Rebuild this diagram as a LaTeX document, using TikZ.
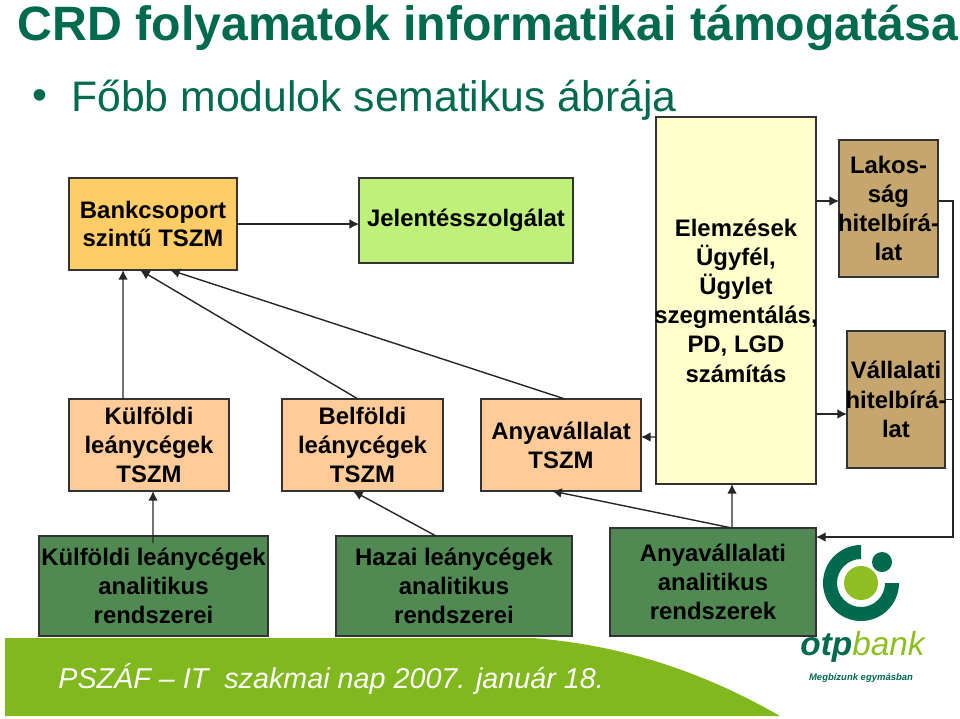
\documentclass[tikz,border=0pt]{standalone}
\usepackage{fontspec}
\setmainfont{Liberation Sans}
\usetikzlibrary{calc,arrows.meta}
\definecolor{titlegreen}{HTML}{006A4E}
\definecolor{bandgreen}{HTML}{80B81E}
\definecolor{logolight}{HTML}{8DBE22}
\definecolor{rszgreen}{HTML}{508A52}
\definecolor{hiteltan}{HTML}{C4A66E}
\definecolor{bankorange}{HTML}{FFCC66}
\definecolor{tszmorange}{HTML}{FFCC99}
\definecolor{jelentgreen}{HTML}{BFF07A}
\definecolor{elemzyellow}{HTML}{FFFFCC}
\newcommand{\wideline}[1]{\makebox[0pt]{#1}}
\tikzset{
  box/.style={draw=black!80,line width=0.8pt,inner sep=0pt,outer sep=0pt,align=center,
    font=\fontsize{13.6}{16.6}\selectfont\bfseries},
  arr/.style={draw=black!85,line width=0.8pt,-{Latex[length=5.5pt,width=5.5pt]}},
  conn/.style={draw=black!85,line width=0.8pt},
}
\begin{document}
\begin{tikzpicture}[x=0.02cm,y=-0.02cm]
\useasboundingbox (0,0) rectangle (960,718);

\node[text=titlegreen,font=\fontsize{27.45}{30}\selectfont\bfseries] (title) at (488,28) {CRD folyamatok informatikai támogatása};
\node[text=titlegreen,font=\fontsize{24.3}{26}\selectfont] (bullet) at (40,100) {•};
\node[text=titlegreen,font=\fontsize{24.3}{26}\selectfont,anchor=west,inner sep=0pt] (subtitle) at (71,100) {Főbb modulok sematikus ábrája};

\node[box,fill=bankorange,minimum width=3.36cm,minimum height=1.84cm] (bank) at (153,224) {\raisebox{-1pt}{Bankcsoport}\\szintű TSZM};
\node[box,fill=jelentgreen,minimum width=4.28cm,minimum height=1.70cm] (jelent) at (466,220.5) {\raisebox{-3.4pt}{Jelentésszolgálat}};
\node[box,fill=tszmorange,minimum width=3.2cm,minimum height=1.84cm] (kulf) at (149,445) {Külföldi\\leánycégek\\TSZM};
\node[box,fill=tszmorange,minimum width=3.22cm,minimum height=1.84cm] (belf) at (362.5,445) {Belföldi\\leánycégek\\TSZM};
\node[box,fill=tszmorange,minimum width=3.2cm,minimum height=1.84cm] (anya) at (561,445) {Anyavállalat\\TSZM};
\node[box,fill=elemzyellow,minimum width=3.2cm,minimum height=7.34cm] (elemz) at (736,300.5) {Elemzések\\Ügyfél,\\Ügylet\\\wideline{szegmentálás,}\\PD, LGD\\számítás};
\node[box,fill=hiteltan,minimum width=1.98cm,minimum height=2.74cm] (lakos) at (888.5,208.5) {Lakos-\\ság\\\wideline{hitelbírá-}\\lat};
\node[box,fill=hiteltan,minimum width=1.96cm,minimum height=2.74cm] (vall) at (896,399.5) {Vállalati\\\wideline{hitelbírá-}\\lat};
\node[box,fill=rszgreen,minimum width=4.58cm,minimum height=2cm] (kulfrsz) at (153.5,586) {\wideline{Külföldi leánycégek}\\analitikus\\rendszerei};
\node[box,fill=rszgreen,minimum width=4.72cm,minimum height=2cm] (hazai) at (454,586) {Hazai leánycégek\\analitikus\\rendszerei};
\node[box,fill=rszgreen,minimum width=4.12cm,minimum height=2.16cm] (anyarsz) at (713,582) {Anyavállalati\\analitikus\\rendszerek};

\draw[arr] (bank.east) -- (jelent.west |- bank.east);
\draw[arr] ($(kulf.north west)+(54,0)$) -- ($(bank.south west)+(54,0)$);
\draw[arr] ($(belf.north west)+(76,0)$) -- ($(bank.south west)+(71,0)$);
\draw[arr] ($(anya.north west)+(84,0)$) -- ($(bank.south west)+(101,0)$);
\draw[arr] ($(elemz.west)+(0,136.5)$) -- ($(anya.east)+(0,-8)$);
\draw[arr] ($(elemz.east |- lakos.west)+(0,-7.5)$) -- ($(lakos.west)+(0,-7.5)$);
\draw[arr] ($(vall.west)+(-31,14.5)$) -- ($(vall.west)+(0,14.5)$);
\draw[arr] ($(anyarsz.north west)+(122,0)$) -- ($(elemz.south west)+(76,0)$);
\draw[arr] ($(anyarsz.north west)+(122,0)$) -- ($(anya.south west)+(71,0)$);
\draw[arr] ($(hazai.north west)+(100,0)$) -- ($(belf.south west)+(71,0)$);
\draw[arr] ($(kulfrsz.north west)+(114,7)$) -- ($(kulf.south west)+(84,0)$);
\coordinate (bus) at (953,201);
\draw[arr] ($(lakos.east)+(0,-7.5)$) -- (bus) -- ($(bus |- anyarsz.north)+(0,9)$) -- ($(anyarsz.north east)+(0,9)$);
\draw[conn] (vall.east) -- (vall.east -| bus);

\fill[bandgreen] (5,638) -- (533,638) .. controls (620,645) and (700,670) .. (780,716) -- (5,716) -- cycle;
\node[text=white,font=\fontsize{16.35}{18}\selectfont\itshape,anchor=west,inner sep=0pt] (nap) at (58,679) {PSZÁF -- IT\ \ szakmai nap 2007. január 18.};

\fill[titlegreen] (861,583) ++(0,-38) arc[start angle=90,end angle=360,radius=0.76cm] -- ++(-0.28cm,0) arc[start angle=360,end angle=90,radius=0.48cm] -- cycle;
\fill[logolight] (861,583) circle (0.34cm);
\fill[titlegreen] (882,562) circle (0.2cm);
\node[anchor=base west,inner sep=0pt,font=\fontsize{19}{22}\selectfont\itshape] (otp) at (800,655) {\textcolor{titlegreen}{\bfseries otp}\textcolor{logolight}{bank}};
\node[text=titlegreen,font=\fontsize{5.4}{6}\selectfont\itshape\bfseries] (szlogen) at (861,678) {Megbízunk egymásban};
\end{tikzpicture}
\end{document}
